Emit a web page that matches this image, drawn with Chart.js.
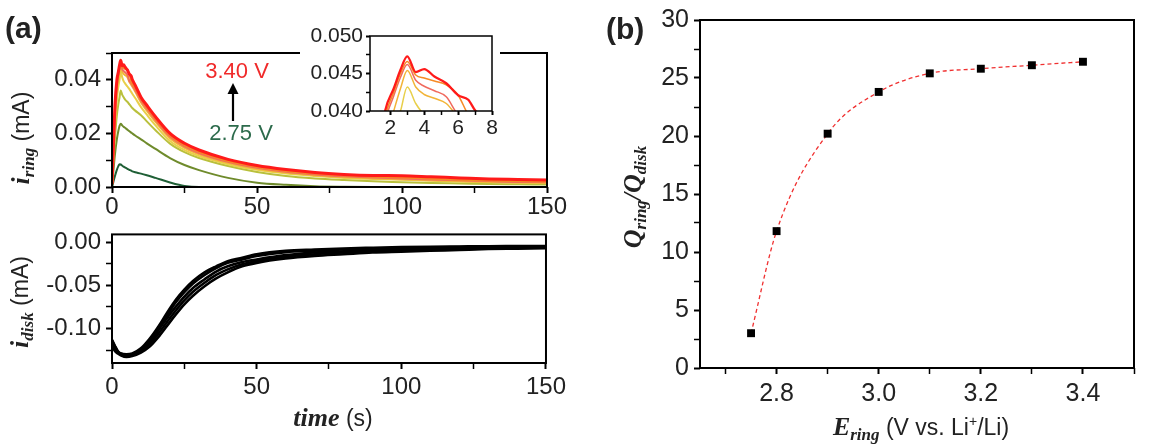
<!DOCTYPE html>
<html>
<head>
<meta charset="utf-8">
<script src="https://cdn.jsdelivr.net/npm/chart.js@4.4.0/dist/chart.umd.min.js"></script>
<style>
  body { margin: 0; background: #fff; width: 1164px; height: 448px; position: relative; overflow: hidden;
         font-family: 'Liberation Sans', Arial, sans-serif; color: #222; }
  canvas { position: absolute; }
  #insetChart { background: #fff; }
  .lbl { position: absolute; white-space: nowrap; font-size: 23px; line-height: 1; }
  .rot { transform: translate(-50%, -50%) rotate(-90deg); }
  .ctr { transform: translate(-50%, -50%); }
  .sym { font-family: 'Liberation Serif', 'Times New Roman', serif; font-style: italic; font-weight: bold; font-size: 26px; }
  .sym sub { font-size: 17px; vertical-align: -5px; }
  .panel { position: absolute; font-weight: bold; font-size: 30px; line-height: 1; }
</style>
</head>
<body>

<canvas id="ringChart" width="570" height="230" style="left:0;top:0"></canvas>
<canvas id="diskChart" width="570" height="233" style="left:0;top:215px"></canvas>
<canvas id="insetChart" width="200" height="125" style="left:300px;top:20px"></canvas>
<canvas id="ratioChart" width="584" height="448" style="left:580px;top:0"></canvas>

<div class="panel" style="left:5px;top:13px">(a)</div>
<div class="panel" style="left:606px;top:14px">(b)</div>

<div class="lbl ctr" style="left:237px;top:71px;color:#f02a2a;font-size:22px">3.40 V</div>
<div class="lbl ctr" style="left:241px;top:133px;color:#2d6b4c;font-size:22px">2.75 V</div>
<svg style="position:absolute;left:226px;top:82px" width="14" height="40">
  <line x1="7" y1="9" x2="7" y2="39" stroke="#000" stroke-width="2.2"/>
  <polygon points="7,1 1.5,12 12.5,12" fill="#000"/>
</svg>

<div class="lbl rot" style="left:22px;top:138px"><span class="sym">i<sub>ring</sub></span> (mA)</div>
<div class="lbl rot" style="left:21px;top:302px"><span class="sym">i<sub>disk</sub></span> (mA)</div>
<div class="lbl ctr" style="left:333px;top:418px"><span class="sym">time</span> (s)</div>
<div class="lbl rot" style="left:634px;top:197px"><span class="sym">Q<sub>ring</sub>/Q<sub>disk</sub></span></div>
<div class="lbl ctr" style="left:921px;top:428px"><span class="sym">E<sub>ring</sub></span> (V vs. Li<sup style="font-size:14px">+</sup>/Li)</div>

<script>
// ---- ring current transients, one per ring potential ----
var ringTime = [0, 1, 1.7, 2.2, 2.6, 3, 3.5, 4, 4.6, 5.3, 6, 6.6, 7, 8, 10, 12, 15, 20, 25, 30, 40, 50, 60, 70, 80, 90, 100, 110, 120, 130, 140, 150];
var ring340 = [0.001, 0.030, 0.0401, 0.0430, 0.0455, 0.0473, 0.0452, 0.0456, 0.0446, 0.0437, 0.0421, 0.0415, 0.0401, 0.0380, 0.0335, 0.0305, 0.0262, 0.0200, 0.0163, 0.0138, 0.0103, 0.0080, 0.0065, 0.0054, 0.0047, 0.0043, 0.0042, 0.0038, 0.0034, 0.0030, 0.0028, 0.0026];
var ring330 = [0.001, 0.028, 0.0392, 0.0425, 0.0450, 0.0466, 0.0448, 0.0444, 0.0440, 0.0435, 0.0421, 0.0395, 0.0385, 0.0370, 0.0328, 0.0298, 0.0255, 0.0193, 0.0156, 0.0131, 0.0097, 0.0075, 0.0060, 0.0050, 0.0043, 0.0038, 0.0035, 0.0031, 0.0027, 0.0024, 0.0021, 0.0020];
var ring320 = [0.001, 0.027, 0.0385, 0.0420, 0.0445, 0.0462, 0.0441, 0.0433, 0.0427, 0.0419, 0.0395, 0.0388, 0.0380, 0.0362, 0.0322, 0.0292, 0.0250, 0.0188, 0.0152, 0.0127, 0.0094, 0.0072, 0.0057, 0.0047, 0.0040, 0.0035, 0.0032, 0.0028, 0.0025, 0.0022, 0.0019, 0.0018];
var ring310 = [0.001, 0.025, 0.0360, 0.0400, 0.0430, 0.0454, 0.0432, 0.0422, 0.0417, 0.0410, 0.0392, 0.0382, 0.0375, 0.0356, 0.0315, 0.0285, 0.0243, 0.0182, 0.0146, 0.0122, 0.0090, 0.0068, 0.0054, 0.0044, 0.0037, 0.0032, 0.0029, 0.0025, 0.0022, 0.0019, 0.0017, 0.0016];
var ring300 = [0.001, 0.022, 0.0330, 0.0375, 0.0400, 0.0432, 0.0410, 0.0395, 0.0385, 0.0375, 0.0365, 0.0355, 0.0348, 0.0332, 0.0298, 0.0270, 0.0230, 0.0172, 0.0138, 0.0115, 0.0085, 0.0064, 0.0050, 0.0041, 0.0034, 0.0030, 0.0027, 0.0023, 0.0020, 0.0018, 0.0016, 0.0015];
var ring290 = [0.001, 0.018, 0.0270, 0.0310, 0.0335, 0.0360, 0.0345, 0.0335, 0.0325, 0.0318, 0.0308, 0.0300, 0.0295, 0.0285, 0.0268, 0.0245, 0.0212, 0.0162, 0.0130, 0.0108, 0.0078, 0.0056, 0.0041, 0.0032, 0.0026, 0.0021, 0.0018, 0.0015, 0.0013, 0.0011, 0.0010, 0.0009];
var ring280 = [0.000, 0.012, 0.0180, 0.0210, 0.0228, 0.0236, 0.0230, 0.0225, 0.0220, 0.0214, 0.0208, 0.0203, 0.0200, 0.0192, 0.0178, 0.0163, 0.0142, 0.0108, 0.0082, 0.0063, 0.0034, 0.0016, 0.0008, 0.0003, 0.0001, 0, 0, 0, 0, 0, 0, 0];
var ring275 = [0.000, 0.004, 0.0065, 0.0078, 0.0085, 0.0084, 0.0080, 0.0076, 0.0072, 0.0068, 0.0064, 0.0061, 0.0058, 0.0055, 0.0050, 0.0044, 0.0034, 0.0017, 0.0004, 0, 0, 0, 0, 0, 0, 0, 0, 0, 0, 0, 0, 0];

// ---- disk current transients (the black band) ----
var diskTime = [0, 1, 2, 3, 5, 7, 10, 13, 16, 19, 22, 25, 28, 32, 36, 40, 45, 50, 60, 70, 80, 90, 100, 110, 120, 130, 140, 150];
var diskU1 = [-0.113, -0.120, -0.126, -0.129, -0.130, -0.129, -0.123, -0.112, -0.098, -0.082, -0.067, -0.055, -0.045, -0.035, -0.028, -0.022, -0.018, -0.014, -0.0100, -0.0085, -0.0073, -0.0065, -0.0058, -0.0053, -0.0050, -0.0047, -0.0045, -0.0043];
var diskU2 = [-0.114, -0.121, -0.127, -0.130, -0.131, -0.130, -0.125, -0.115, -0.101, -0.085, -0.070, -0.058, -0.048, -0.038, -0.030, -0.024, -0.020, -0.016, -0.0115, -0.0098, -0.0085, -0.0075, -0.0068, -0.0062, -0.0058, -0.0055, -0.0052, -0.0050];
var diskL1 = [-0.116, -0.123, -0.127, -0.129, -0.131, -0.130, -0.124, -0.116, -0.102, -0.088, -0.075, -0.063, -0.053, -0.043, -0.034, -0.028, -0.023, -0.020, -0.0150, -0.0120, -0.0105, -0.0092, -0.0083, -0.0076, -0.0070, -0.0064, -0.0060, -0.0057];
var diskL2 = [-0.118, -0.125, -0.128, -0.130, -0.132, -0.131, -0.126, -0.118, -0.106, -0.0925, -0.0795, -0.0675, -0.0575, -0.047, -0.038, -0.0315, -0.0255, -0.022, -0.0170, -0.0140, -0.0120, -0.0105, -0.0095, -0.0087, -0.0080, -0.0073, -0.0068, -0.0064];
var diskL3 = [-0.120, -0.126, -0.129, -0.131, -0.133, -0.132, -0.128, -0.121, -0.110, -0.097, -0.084, -0.072, -0.062, -0.051, -0.042, -0.035, -0.028, -0.024, -0.0190, -0.0160, -0.0140, -0.0120, -0.0110, -0.0100, -0.0090, -0.0080, -0.0075, -0.0070];

// ---- panel (b): charge ratio vs ring potential ----
var ratioPotential = [2.75, 2.8, 2.9, 3.0, 3.1, 3.2, 3.3, 3.4];
var ratioValue = [3.0, 11.8, 20.2, 23.8, 25.4, 25.8, 26.1, 26.4];

// ---- ticks (majors get a label, minors only a tick) ----
var timeTicks = [0, 25, 50, 75, 100, 125, 150];
var timeLabels = [0, 50, 100, 150];
var ringYTicks = [0, 0.01, 0.02, 0.03, 0.04, 0.05];
var ringYLabels = [0, 0.02, 0.04];
var insetXTicks = [2, 3, 4, 5, 6, 7, 8];
var insetXLabels = [2, 4, 6, 8];
var insetYTicks = [0.04, 0.0425, 0.045, 0.0475, 0.05];
var insetYLabels = [0.04, 0.045, 0.05];
var diskYTicks = [0, -0.025, -0.05, -0.075, -0.1, -0.125];
var diskYLabels = [0, -0.05, -0.1];
var ratioXTicks = [2.7, 2.8, 2.9, 3.0, 3.1, 3.2, 3.3, 3.4, 3.5];
var ratioXLabels = [2.8, 3.0, 3.2, 3.4];
var ratioYTicks = [0, 2.5, 5, 7.5, 10, 12.5, 15, 17.5, 20, 22.5, 25, 27.5, 30];
var ratioYLabels = [0, 5, 10, 15, 20, 25, 30];

Chart.defaults.font.family = "'Liberation Sans', Arial, sans-serif";
Chart.defaults.color = '#222';

var framePlugin = {
    id: 'frame',
    afterDraw: function (chart, args, opts) {
        var a = chart.chartArea;
        var ctx = chart.ctx;
        ctx.save();
        ctx.strokeStyle = '#000';
        ctx.lineWidth = opts.width;
        ctx.strokeRect(a.left, a.top, a.right - a.left, a.bottom - a.top);
        ctx.restore();
    }
};

function isIn(list, v) {
    return list.some(function (m) { return Math.abs(m - v) < 1e-9; });
}

// one axis, Origin style: ticks out, labels only on majors, fixed box size
function axis(min, max, ticks, labels, digits, boxSize, fontSize, pad, tickLen) {
    return {
        type: 'linear', min: min, max: max,
        afterBuildTicks: function (s) { s.ticks = ticks.map(function (v) { return { value: v }; }); },
        afterFit: function (s) { if (s.isHorizontal()) s.height = boxSize; else s.width = boxSize; },
        border: { display: false },
        grid: { drawOnChartArea: false, drawTicks: true, tickLength: tickLen, tickColor: '#000',
                tickWidth: function (c) { return isIn(labels, c.tick.value) ? 2 : 1.5; } },
        ticks: {
            autoSkip: false, maxRotation: 0, padding: pad, color: '#222',
            font: { size: fontSize },
            callback: function (v) { return isIn(labels, v) ? (Math.abs(v) < 1e-12 ? (0).toFixed(digits) : v.toFixed(digits)) : ''; }
        }
    };
}

function pts(xs, ys) {
    return xs.map(function (x, i) { return { x: x, y: ys[i] }; });
}

var ringSeries = [
    { label: '3.40 V', data: ring340, color: '#ff1a1a', width: 3 },
    { label: '3.30 V', data: ring330, color: '#f68a25', width: 2 },
    { label: '3.20 V', data: ring320, color: '#f06a5e', width: 2 },
    { label: '3.10 V', data: ring310, color: '#f2b437', width: 2 },
    { label: '3.00 V', data: ring300, color: '#e8cf4a', width: 2 },
    { label: '2.90 V', data: ring290, color: '#b9c03c', width: 2 },
    { label: '2.80 V', data: ring280, color: '#6f8b2c', width: 2 },
    { label: '2.75 V', data: ring275, color: '#1f5f36', width: 2 }
];

function ringDatasets(scaleWidth) {
    return ringSeries.map(function (s) {
        return {
            label: s.label, data: pts(ringTime, s.data),
            borderColor: s.color, borderWidth: s.width * scaleWidth,
            pointRadius: 0, fill: false, cubicInterpolationMode: 'monotone'
        };
    });
}

function baseOptions(frameWidth, padding, scales) {
    return {
        responsive: false, animation: false,
        plugins: { legend: { display: false }, tooltip: { enabled: false }, frame: { width: frameWidth } },
        layout: { padding: padding },
        scales: scales
    };
}

new Chart(document.getElementById('ringChart'), {
    type: 'line',
    data: { datasets: ringDatasets(1) },
    plugins: [framePlugin],
    options: baseOptions(2, { top: 53, right: 23, left: 0, bottom: 0 }, {
        x: axis(0, 150, timeTicks, timeLabels, 0, 43, 24, 0, 6),
        y: axis(0, 0.05, ringYTicks, ringYLabels, 2, 112, 24, 5, 6)
    })
});

new Chart(document.getElementById('insetChart'), {
    type: 'line',
    data: { datasets: ringDatasets(0.75) },
    plugins: [framePlugin],
    options: baseOptions(1.5, { top: 16, right: 8, left: 0, bottom: 0 }, {
        x: axis(0.8, 8, insetXTicks, insetXLabels, 0, 34, 21, 1, 4),
        y: axis(0.04, 0.05, insetYTicks, insetYLabels, 3, 70, 21, 3, 4)
    })
});

var diskSets = [diskU1, diskU2, diskL1, diskL2, diskL3].map(function (d, i) {
    return { label: 'disk ' + (i + 1), data: pts(diskTime, d), borderColor: '#000', borderWidth: 2.6,
             pointRadius: 0, fill: false, cubicInterpolationMode: 'monotone' };
});

new Chart(document.getElementById('diskChart'), {
    type: 'line',
    data: { datasets: diskSets },
    plugins: [framePlugin],
    options: baseOptions(2, { top: 17, right: 23, left: 0, bottom: 0 }, {
        x: axis(0, 150, timeTicks, timeLabels, 0, 85, 24, 4, 6),
        y: axis(-0.14, 0.009, diskYTicks, diskYLabels, 2, 112, 24, 5, 6)
    })
});

new Chart(document.getElementById('ratioChart'), {
    type: 'line',
    data: {
        datasets: [
            { label: 'data', data: pts(ratioPotential, ratioValue), showLine: false,
              pointStyle: 'rect', pointRadius: 5.6, pointBackgroundColor: '#000', pointBorderColor: '#000', borderWidth: 0 },
            { label: 'fit', data: pts(ratioPotential, ratioValue), borderColor: '#f03030', borderWidth: 1.3,
              borderDash: [4, 3], pointRadius: 0, fill: false, cubicInterpolationMode: 'monotone' }
        ]
    },
    plugins: [framePlugin],
    options: baseOptions(2, { top: 18, right: 30, left: 0, bottom: 0 }, {
        x: axis(2.65, 3.5, ratioXTicks, ratioXLabels, 1, 80, 25, 5, 6),
        y: axis(0, 30, ratioYTicks, ratioYLabels, 0, 120, 25, 5, 6)
    })
});
</script>
</body>
</html>
